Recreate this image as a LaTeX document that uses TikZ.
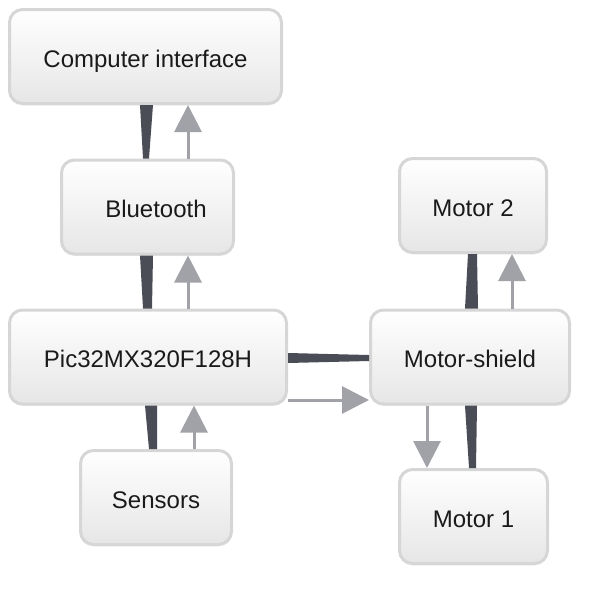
\documentclass[tikz,border=0pt]{standalone}
\usepackage{fontspec}
\setmainfont{Liberation Sans}
\usepackage{xcolor}
\definecolor{linkdark}{RGB}{74,77,86}
\definecolor{flowgray}{RGB}{160,162,168}
\definecolor{boxedge}{RGB}{214,214,214}
\definecolor{boxshade}{RGB}{230,230,230}
\definecolor{labeltext}{RGB}{26,26,26}
\usepackage{tikz}
\usetikzlibrary{arrows.meta}
\usetikzlibrary{shadows}
\tikzset{
    common/.style={draw=boxedge, line width=3pt, rounded corners=13pt, minimum height=94pt},
    block/.style={common, top color=white, middle color=white, bottom color=boxshade, text=labeltext,
        font=\fontsize{24}{28}\selectfont, text height=21pt, text depth=0pt,
        drop shadow={shadow xshift=0pt, shadow yshift=-2pt, opacity=0.10}},
    link/.style={fill=linkdark},
    flow/.style={draw=flowgray, line width=3pt, -{Triangle[length=27pt 0, width=27pt 0]}}
}

\begin{document}
\begin{tikzpicture}[x=1pt, y=-1pt]
      \useasboundingbox (0,0) rectangle (600,595);

      \path
          (145.5,56.5) node[block, minimum width=272pt] (comp) {Computer interface}
          (147.5,207) node[block, minimum width=172pt] (bt) {\hspace{17pt}Bluetooth}
          (148,357) node[block, minimum width=277pt] (pic) {Pic32MX320F128H}
          (156,497.5) node[block, minimum width=151pt] (sens) {Sensors};

      \path
          (473,205.5) node[block, minimum width=147pt] (m2) {Motor 2}
          (470,357) node[block, minimum width=199pt] (ms) {Motor-shield}
          (473.5,516.5) node[block, minimum width=148pt] (m1) {Motor 1};

      % dark tapered links
      \fill[link] ([xshift=-5.5pt]comp.south) -- ([xshift=7.5pt]comp.south) -- ([xshift=1.5pt]bt.north) -- ([xshift=-4.5pt]bt.north) -- cycle;
      \fill[link] ([xshift=-7.5pt]bt.south) -- ([xshift=5.5pt]bt.south) -- ([xshift=4pt]pic.north) -- ([xshift=-5pt]pic.north) -- cycle;
      \fill[link] ([xshift=-3pt]pic.south) -- ([xshift=9pt]pic.south) -- ([xshift=1pt]sens.north) -- ([xshift=-7pt]sens.north) -- cycle;
      \fill[link] ([yshift=4pt]pic.east) -- ([yshift=-6pt]pic.east) -- ([yshift=-4pt]ms.west) -- ([yshift=2pt]ms.west) -- cycle;
      \fill[link] ([xshift=-5pt]ms.north) -- ([xshift=8pt]ms.north) -- ([xshift=4pt]m2.south) -- ([xshift=-5pt]m2.south) -- cycle;
      \fill[link] ([xshift=-5pt]ms.south) -- ([xshift=7pt]ms.south) -- ([xshift=2.5pt]m1.north) -- ([xshift=-4.5pt]m1.north) -- cycle;

      % gray flow arrows
      \draw[flow] ([xshift=40.5pt]bt.north) -- ([xshift=42.5pt]comp.south);
      \draw[flow] ([xshift=40pt]pic.north) -- ([xshift=40.5pt]bt.south);
      \draw[flow] ([xshift=38pt]sens.north) -- ([xshift=46pt]pic.south);
      \draw[flow] ([yshift=-43pt]pic.east) -- ([yshift=-43pt]ms.west);
      \draw[flow] ([xshift=-43pt]ms.south) -- ([xshift=-46.5pt]m1.north);
      \draw[flow] ([xshift=42pt]ms.north) -- ([xshift=39pt]m2.south);
\end{tikzpicture}
\end{document}
